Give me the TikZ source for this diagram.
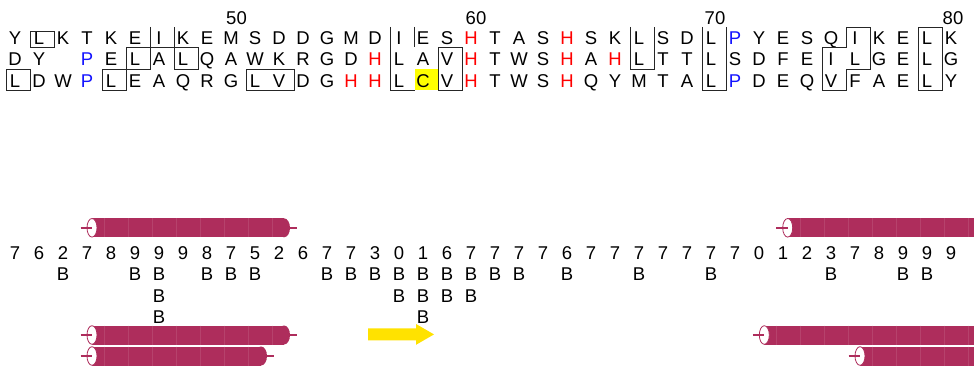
\documentclass[tikz,border=0pt]{standalone}
\usepackage{fontspec}
\setmainfont{Liberation Sans}
\usepackage{tikz}
\usepackage{xcolor}
\definecolor{helixred}{RGB}{174,45,92}
\definecolor{strandyellow}{RGB}{255,226,0}
\definecolor{hilite}{RGB}{255,255,0}
\definecolor{resred}{RGB}{255,0,0}
\definecolor{resblue}{RGB}{20,20,255}
\newcommand{\redH}{\textcolor{resred}{H}}
\newcommand{\blueP}{\textcolor{resblue}{P}}

\begin{document}
\begin{tikzpicture}[
x=1pt,y=-1pt,
res/.style={anchor=base,inner sep=0pt,font=\fontsize{18.5}{21}\selectfont},
frame/.style={draw=black!85,line width=0.8pt},
tick/.style={draw=helixred,line width=1.6pt}]
\clip (0,0) rectangle (974,371);
\fill[white] (0,0) rectangle (974,371);
% numbering
\node (num50) [res] at (236.5,25) {50};
\node (num60) [res] at (476,25) {60};
\node (num70) [res] at (715,25) {70};
\node (num80) [res] at (953,25) {80};
% highlighted cysteine
\fill[hilite] (414.5,69) rectangle (438.5,90.5);
% sequences
\foreach \res [count=\c] in {Y,L,K,T,K,E,I,K,E,M,S,D,D,G,M,D,I,E,S,\redH,T,A,S,\redH,S,K,L,S,D,L,\blueP,Y,E,S,Q,I,K,E,L,K}
  \node (seqa\c) [res] at ({15+24*(\c-1)},44.3) {\res};
\foreach \res [count=\c] in {D,Y,{},\blueP,E,L,A,L,Q,A,W,K,R,G,D,\redH,L,A,V,\redH,T,W,S,\redH,A,\redH,L,T,T,L,S,D,F,E,I,L,G,E,L,G}
  \node (seqb\c) [res] at ({15+24*(\c-1)},66) {\res};
\foreach \res [count=\c] in {L,D,W,\blueP,L,E,A,Q,R,G,L,V,D,G,\redH,\redH,L,C,V,\redH,T,W,S,\redH,Q,Y,M,T,A,L,\blueP,D,E,Q,V,F,A,E,L,Y}
  \node (seqc\c) [res] at ({15+24*(\c-1)},87.3) {\res};
% similarity frames
\begin{scope}[xshift=6.5pt,x=24pt]
\draw[frame] (0,69) rectangle (1,90.5);
\draw[frame] (1,31) rectangle (2,47.5);
\draw[frame] (4,69) rectangle (5,90.5);
\draw[frame] (5,47.5) rectangle (6,69);
\draw[frame] (6,27) -- (6,47.5) -- (7,47.5) -- (7,27);
\draw[frame] (7,47.5) rectangle (8,69);
\draw[frame] (10,69) rectangle (12,90.5);
\draw[frame] (16,27) -- (16,90.5) -- (17,90.5);
\draw[frame] (17,27) -- (17,47.5);
\draw[frame] (18,47.5) rectangle (19,90.5);
\draw[frame] (26,27) -- (26,69) -- (27,69) -- (27,27);
\draw[frame] (29,27) -- (29,90.5) -- (30,90.5) -- (30,27);
\draw[frame] (35,27) -- (36,27) -- (36,69) -- (35,69) -- (35,90.5) -- (34,90.5) -- (34,47.5) -- (35,47.5) -- cycle;
\draw[frame] (38,27) rectangle (39,90.5);
\end{scope}
% helices
\foreach \xa/\xb/\yc/\tk in {92/290/227.8/1,787.7/1000/227.8/0,92/290/335/1,764.3/1000/335/0,92/267/356/1,860/1000/356/0}{
  \fill[helixred] (\xa,\yc-9.5) rectangle (\xb-6,\yc+9.5);
  \fill[helixred] (\xb-6,\yc) ellipse [x radius=6pt,y radius=9.5pt];
  \begin{scope}
  \clip (\xa,\yc-9.5) rectangle (\xb-6,\yc+9.5);
  \foreach \k in {0,...,40}
    \draw[helixred!90!white,line width=0.4pt] ({8+24*\k},\yc-9.5) -- ++(0,19);
  \end{scope}
  \draw[helixred,fill=white,line width=0.8pt] (\xa,\yc) ellipse [x radius=5pt,y radius=9.3pt];
  \draw[tick] (\xa-11.5,\yc) -- (\xa,\yc);
  \ifnum\tk=1 \draw[tick] (\xb-1,\yc) -- (\xb+7,\yc); \fi
}
% strand
\fill[strandyellow] (368,328.3) -- (416,328.3) -- (416,324) -- (434,334.4) -- (416,344.8) -- (416,340.3) -- (368,340.3) -- cycle;
% accessibility
\foreach \d [count=\c] in {7,6,2,7,8,9,9,9,8,7,5,2,6,7,7,3,0,1,6,7,7,7,7,6,7,7,7,7,7,7,7,0,1,2,3,7,8,9,9,9}
  \node (acc\c) [res] at ({15+24*(\c-1)},260) {\d};
\foreach \c in {3,6,7,9,10,11,14,15,16,17,18,19,20,21,22,24,27,30,35,38,39}
  \node (bura\c) [res] at ({15+24*(\c-1)},280.5) {B};
\foreach \c in {7,17,18,19,20}
  \node (burb\c) [res] at ({15+24*(\c-1)},302) {B};
\foreach \c in {7,18}
  \node (burc\c) [res] at ({15+24*(\c-1)},323.5) {B};
\end{tikzpicture}
\end{document}
